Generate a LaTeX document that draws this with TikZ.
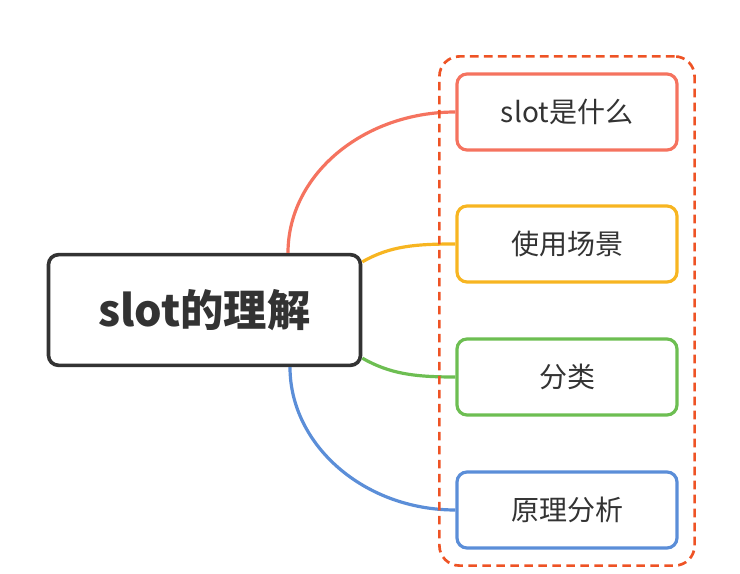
\documentclass[tikz,border=0pt]{standalone}
\usepackage{fontspec}
\setmainfont{Noto Sans CJK SC}
\usepackage{tikz}
\usetikzlibrary{calc,fit}

\definecolor{txtgray}{HTML}{333333}
\definecolor{redline}{HTML}{F5735F}
\definecolor{yellowline}{HTML}{F7B521}
\definecolor{greenline}{HTML}{6DBE52}
\definecolor{blueline}{HTML}{5B8ED8}
\definecolor{frameline}{HTML}{EE5325}

\begin{document}
\begin{tikzpicture}[x=0.75pt,y=0.75pt,yscale=-1,xscale=1,
    rootbox/.style={draw=txtgray,line width=2.7pt,rounded corners=7.5pt,minimum width=234pt,minimum height=83pt,font=\fontsize{32.5}{34}\selectfont\bfseries,text=txtgray},
    leafbox/.style={draw=#1,line width=2.4pt,rounded corners=7.5pt,minimum width=165pt,minimum height=57pt,font=\fontsize{21}{24}\selectfont,text=txtgray},
    branch/.style={draw=#1,line width=2.4pt}]

            \useasboundingbox (0,0) rectangle (740,574);

            % Root
            \node (root) at (204.5,310) [rootbox] {slot的理解};

            % Leaves
            \node (what) at (567,112) [leafbox=redline] {slot是什么};
            \node (use) at (567,244) [leafbox=yellowline] {使用场景};
            \node (kind) at (567,377) [leafbox=greenline] {分类};
            \node (how) at (567,510) [leafbox=blueline] {原理分析};

            % Branches
            \draw [branch=redline] ($(root.north)+(83.5,0)$) .. controls (288,175) and (363,112) .. (what.west);
            \draw [branch=yellowline] ($(root.north east)+(0,9)$) .. controls (390,246) and (415,244) .. (use.west);
            \draw [branch=greenline] ($(root.south east)+(0,-9)$) .. controls (390,374) and (415,377) .. (kind.west);
            \draw [branch=blueline] ($(root.south)+(85.5,0)$) .. controls (290,445) and (364,510) .. (how.west);

            % Dashed frame
            \node (grp) [draw=frameline,line width=2pt,dash pattern=on 6.5pt off 4pt,rounded corners=15pt,inner sep=12pt,fit=(what)(how)] {};

\end{tikzpicture}
\end{document}
